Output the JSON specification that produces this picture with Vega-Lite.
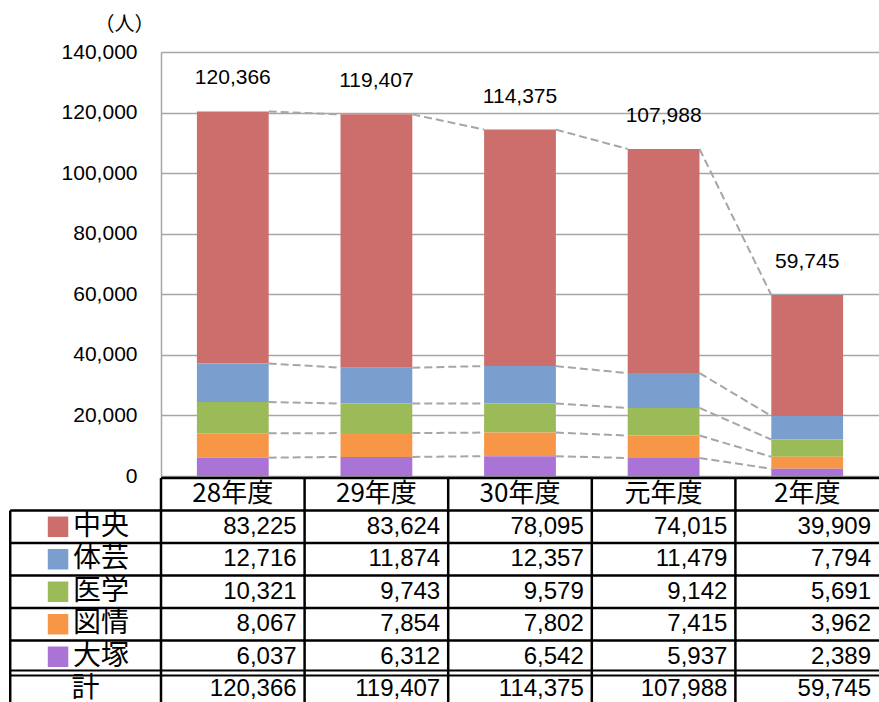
{
  "$schema": "https://vega.github.io/schema/vega-lite/v6.json",
  "width": 718,
  "height": 650,
  "autosize": "none",
  "padding": {"left": 161, "top": 52, "right": 0, "bottom": 0},
  "config": {"view": {"stroke": null}, "font": "Liberation Sans"},
  "datasets": {
    "main": [
      {"year": "28年度", "fy": 2016, "series": "中央", "so": 5, "count": 83225},
      {"year": "28年度", "fy": 2016, "series": "体芸", "so": 4, "count": 12716},
      {"year": "28年度", "fy": 2016, "series": "医学", "so": 3, "count": 10321},
      {"year": "28年度", "fy": 2016, "series": "図情", "so": 2, "count": 8067},
      {"year": "28年度", "fy": 2016, "series": "大塚", "so": 1, "count": 6037},
      {"year": "29年度", "fy": 2017, "series": "中央", "so": 5, "count": 83624},
      {"year": "29年度", "fy": 2017, "series": "体芸", "so": 4, "count": 11874},
      {"year": "29年度", "fy": 2017, "series": "医学", "so": 3, "count": 9743},
      {"year": "29年度", "fy": 2017, "series": "図情", "so": 2, "count": 7854},
      {"year": "29年度", "fy": 2017, "series": "大塚", "so": 1, "count": 6312},
      {"year": "30年度", "fy": 2018, "series": "中央", "so": 5, "count": 78095},
      {"year": "30年度", "fy": 2018, "series": "体芸", "so": 4, "count": 12357},
      {"year": "30年度", "fy": 2018, "series": "医学", "so": 3, "count": 9579},
      {"year": "30年度", "fy": 2018, "series": "図情", "so": 2, "count": 7802},
      {"year": "30年度", "fy": 2018, "series": "大塚", "so": 1, "count": 6542},
      {"year": "元年度", "fy": 2019, "series": "中央", "so": 5, "count": 74015},
      {"year": "元年度", "fy": 2019, "series": "体芸", "so": 4, "count": 11479},
      {"year": "元年度", "fy": 2019, "series": "医学", "so": 3, "count": 9142},
      {"year": "元年度", "fy": 2019, "series": "図情", "so": 2, "count": 7415},
      {"year": "元年度", "fy": 2019, "series": "大塚", "so": 1, "count": 5937},
      {"year": "2年度", "fy": 2020, "series": "中央", "so": 5, "count": 39909},
      {"year": "2年度", "fy": 2020, "series": "体芸", "so": 4, "count": 7794},
      {"year": "2年度", "fy": 2020, "series": "医学", "so": 3, "count": 5691},
      {"year": "2年度", "fy": 2020, "series": "図情", "so": 2, "count": 3962},
      {"year": "2年度", "fy": 2020, "series": "大塚", "so": 1, "count": 2389}
    ],
    "years": [
      {"year": "28年度"}, {"year": "29年度"}, {"year": "30年度"}, {"year": "元年度"}, {"year": "2年度"}
    ],
    "series": [
      {"series": "中央"}, {"series": "体芸"}, {"series": "医学"}, {"series": "図情"}, {"series": "大塚"}
    ]
  },
  "layer": [
    {
      "data": {"name": "main"},
      "mark": {"type": "bar"},
      "encoding": {
        "x": {"field": "year", "type": "nominal", "axis": null,
              "scale": {"type": "band", "domain": ["28年度", "29年度", "30年度", "元年度", "2年度"], "paddingInner": 0.5, "paddingOuter": 0.25}},
        "y": {"field": "count", "type": "quantitative", "stack": "zero",
              "scale": {"domain": [0, 140000], "range": [424, 0], "nice": false},
              "axis": {"title": "（人）", "titleAngle": 0, "titleX": -37, "titleY": -28, "titleAlign": "center", "titleBaseline": "middle",
                       "titleFont": "Noto Sans CJK JP", "titleFontSize": 20, "titleFontWeight": "normal", "titleColor": "black",
                       "values": [0, 20000, 40000, 60000, 80000, 100000, 120000, 140000], "format": ",.0f",
                       "labelFont": "Liberation Sans", "labelFontSize": 21, "labelColor": "black", "labelPadding": 24,
                       "ticks": false, "grid": true, "domainColor": "#A6A6A6", "domainWidth": 1.5, "gridColor": "#A6A6A6", "gridWidth": 1.5}},
        "color": {"field": "series", "type": "nominal", "legend": null,
                  "scale": {"domain": ["中央", "体芸", "医学", "図情", "大塚"], "range": ["#CC6F6C", "#7A9FCF", "#9BBB59", "#F79646", "#A974D6"]}},
        "order": {"field": "so", "type": "quantitative"}
      }
    },
    {
      "data": {"name": "main"},
      "transform": [
        {"stack": "count", "groupby": ["year"], "sort": [{"field": "so", "order": "ascending"}], "as": ["c0", "c1"]},
        {"window": [{"op": "lead", "field": "c1", "as": "n1"}, {"op": "lead", "field": "year", "as": "nyear"}], "groupby": ["series"], "sort": [{"field": "fy", "order": "ascending"}]},
        {"filter": "datum.nyear != null"}
      ],
      "mark": {"type": "rule", "color": "#A6A6A6", "strokeWidth": 2, "strokeDash": [8, 4]},
      "encoding": {
        "x": {"field": "year", "type": "nominal", "bandPosition": 1, "axis": null,
              "scale": {"type": "band", "domain": ["28年度", "29年度", "30年度", "元年度", "2年度"], "paddingInner": 0.5, "paddingOuter": 0.25}},
        "x2": {"field": "nyear", "bandPosition": 0},
        "y": {"field": "c1", "type": "quantitative", "axis": null,
              "scale": {"domain": [0, 140000], "range": [424, 0], "nice": false}},
        "y2": {"field": "n1"}
      }
    },
    {
      "data": {"name": "main"},
      "mark": {"type": "text", "dy": -33, "fontSize": 21, "font": "Liberation Sans", "color": "black"},
      "encoding": {
        "x": {"field": "year", "type": "nominal", "axis": null,
              "scale": {"type": "band", "domain": ["28年度", "29年度", "30年度", "元年度", "2年度"], "paddingInner": 0.5, "paddingOuter": 0.25}},
        "y": {"aggregate": "sum", "field": "count", "type": "quantitative", "axis": null,
              "scale": {"domain": [0, 140000], "range": [424, 0], "nice": false}},
        "text": {"aggregate": "sum", "field": "count", "type": "quantitative", "format": ","}
      }
    },
    {
      "data": {"values": [{"r": "hdr"}]},
      "mark": {"type": "rule", "color": "black", "strokeWidth": 2.5},
      "encoding": {
        "y": {"field": "r", "type": "nominal", "bandPosition": 0, "axis": null,
              "scale": {"type": "band", "domain": ["hdr", "中央", "体芸", "医学", "図情", "大塚", "計", "end"], "range": [426, 686], "paddingInner": 0, "paddingOuter": 0}},
        "x": {"datum": "28年度", "type": "nominal", "bandPosition": 0, "axis": null,
              "scale": {"type": "band", "domain": ["label", "28年度", "29年度", "30年度", "元年度", "2年度", "xend"], "range": [-143.6, 861.6], "paddingInner": 0, "paddingOuter": 0}},
        "x2": {"datum": "xend"}
      }
    },
    {
      "data": {"name": "series"},
      "mark": {"type": "rule", "color": "black", "strokeWidth": 2.5},
      "encoding": {
        "y": {"field": "series", "type": "nominal", "bandPosition": 0, "axis": null,
              "scale": {"type": "band", "domain": ["hdr", "中央", "体芸", "医学", "図情", "大塚", "計", "end"], "range": [426, 686], "paddingInner": 0, "paddingOuter": 0}},
        "x": {"datum": "label", "type": "nominal", "bandPosition": -0.05, "axis": null,
              "scale": {"type": "band", "domain": ["label", "28年度", "29年度", "30年度", "元年度", "2年度", "xend"], "range": [-143.6, 861.6], "paddingInner": 0, "paddingOuter": 0}},
        "x2": {"datum": "xend"}
      }
    },
    {
      "data": {"values": [{"r": "計"}]},
      "mark": {"type": "rule", "color": "black", "strokeWidth": 2, "yOffset": -2.5},
      "encoding": {
        "y": {"field": "r", "type": "nominal", "bandPosition": 0, "axis": null,
              "scale": {"type": "band", "domain": ["hdr", "中央", "体芸", "医学", "図情", "大塚", "計", "end"], "range": [426, 686], "paddingInner": 0, "paddingOuter": 0}},
        "x": {"datum": "label", "type": "nominal", "bandPosition": -0.05, "axis": null,
              "scale": {"type": "band", "domain": ["label", "28年度", "29年度", "30年度", "元年度", "2年度", "xend"], "range": [-143.6, 861.6], "paddingInner": 0, "paddingOuter": 0}},
        "x2": {"datum": "xend"}
      }
    },
    {
      "data": {"values": [{"r": "計"}]},
      "mark": {"type": "rule", "color": "black", "strokeWidth": 2, "yOffset": 2.5},
      "encoding": {
        "y": {"field": "r", "type": "nominal", "bandPosition": 0, "axis": null,
              "scale": {"type": "band", "domain": ["hdr", "中央", "体芸", "医学", "図情", "大塚", "計", "end"], "range": [426, 686], "paddingInner": 0, "paddingOuter": 0}},
        "x": {"datum": "label", "type": "nominal", "bandPosition": -0.05, "axis": null,
              "scale": {"type": "band", "domain": ["label", "28年度", "29年度", "30年度", "元年度", "2年度", "xend"], "range": [-143.6, 861.6], "paddingInner": 0, "paddingOuter": 0}},
        "x2": {"datum": "xend"}
      }
    },
    {
      "data": {"name": "years"},
      "mark": {"type": "rule", "color": "black", "strokeWidth": 2.5},
      "encoding": {
        "x": {"field": "year", "type": "nominal", "bandPosition": 0, "axis": null,
              "scale": {"type": "band", "domain": ["label", "28年度", "29年度", "30年度", "元年度", "2年度", "xend"], "range": [-143.6, 861.6], "paddingInner": 0, "paddingOuter": 0}},
        "y": {"datum": "hdr", "type": "nominal", "bandPosition": 0, "axis": null,
              "scale": {"type": "band", "domain": ["hdr", "中央", "体芸", "医学", "図情", "大塚", "計", "end"], "range": [426, 686], "paddingInner": 0, "paddingOuter": 0}},
        "y2": {"datum": "end"}
      }
    },
    {
      "data": {"values": [{"r": "中央"}]},
      "mark": {"type": "rule", "color": "black", "strokeWidth": 2.5},
      "encoding": {
        "x": {"datum": "label", "type": "nominal", "bandPosition": -0.05, "axis": null,
              "scale": {"type": "band", "domain": ["label", "28年度", "29年度", "30年度", "元年度", "2年度", "xend"], "range": [-143.6, 861.6], "paddingInner": 0, "paddingOuter": 0}},
        "y": {"field": "r", "type": "nominal", "bandPosition": 0, "axis": null,
              "scale": {"type": "band", "domain": ["hdr", "中央", "体芸", "医学", "図情", "大塚", "計", "end"], "range": [426, 686], "paddingInner": 0, "paddingOuter": 0}},
        "y2": {"datum": "end"}
      }
    },
    {
      "data": {"name": "years"},
      "mark": {"type": "text", "font": "Noto Sans CJK JP", "fontSize": 26, "color": "black", "baseline": "middle", "align": "center"},
      "encoding": {
        "x": {"field": "year", "type": "nominal", "bandPosition": 0.5, "axis": null,
              "scale": {"type": "band", "domain": ["label", "28年度", "29年度", "30年度", "元年度", "2年度", "xend"], "range": [-143.6, 861.6], "paddingInner": 0, "paddingOuter": 0}},
        "y": {"datum": "hdr", "type": "nominal", "axis": null,
              "scale": {"type": "band", "domain": ["hdr", "中央", "体芸", "医学", "図情", "大塚", "計", "end"], "range": [426, 686], "paddingInner": 0, "paddingOuter": 0}},
        "text": {"field": "year", "type": "nominal"}
      }
    },
    {
      "data": {"name": "main"},
      "mark": {"type": "text", "font": "Liberation Sans", "fontSize": 24, "color": "black", "baseline": "middle", "align": "right", "dx": -8},
      "encoding": {
        "x": {"field": "year", "type": "nominal", "bandPosition": 1, "axis": null,
              "scale": {"type": "band", "domain": ["label", "28年度", "29年度", "30年度", "元年度", "2年度", "xend"], "range": [-143.6, 861.6], "paddingInner": 0, "paddingOuter": 0}},
        "y": {"field": "series", "type": "nominal", "axis": null,
              "scale": {"type": "band", "domain": ["hdr", "中央", "体芸", "医学", "図情", "大塚", "計", "end"], "range": [426, 686], "paddingInner": 0, "paddingOuter": 0}},
        "text": {"field": "count", "type": "quantitative", "format": ","}
      }
    },
    {
      "data": {"name": "main"},
      "transform": [{"aggregate": [{"op": "sum", "field": "count", "as": "total"}], "groupby": ["year"]}],
      "mark": {"type": "text", "font": "Liberation Sans", "fontSize": 24, "color": "black", "baseline": "middle", "align": "right", "dx": -8},
      "encoding": {
        "x": {"field": "year", "type": "nominal", "bandPosition": 1, "axis": null,
              "scale": {"type": "band", "domain": ["label", "28年度", "29年度", "30年度", "元年度", "2年度", "xend"], "range": [-143.6, 861.6], "paddingInner": 0, "paddingOuter": 0}},
        "y": {"datum": "計", "type": "nominal", "axis": null,
              "scale": {"type": "band", "domain": ["hdr", "中央", "体芸", "医学", "図情", "大塚", "計", "end"], "range": [426, 686], "paddingInner": 0, "paddingOuter": 0}},
        "text": {"field": "total", "type": "quantitative", "format": ","}
      }
    },
    {
      "data": {"name": "series"},
      "mark": {"type": "point", "shape": "square", "size": 420, "filled": true, "opacity": 1, "strokeWidth": 0},
      "encoding": {
        "x": {"datum": "label", "type": "nominal", "bandPosition": 0.283, "axis": null,
              "scale": {"type": "band", "domain": ["label", "28年度", "29年度", "30年度", "元年度", "2年度", "xend"], "range": [-143.6, 861.6], "paddingInner": 0, "paddingOuter": 0}},
        "y": {"field": "series", "type": "nominal", "axis": null,
              "scale": {"type": "band", "domain": ["hdr", "中央", "体芸", "医学", "図情", "大塚", "計", "end"], "range": [426, 686], "paddingInner": 0, "paddingOuter": 0}},
        "color": {"field": "series", "type": "nominal", "legend": null,
                  "scale": {"domain": ["中央", "体芸", "医学", "図情", "大塚"], "range": ["#CC6F6C", "#7A9FCF", "#9BBB59", "#F79646", "#A974D6"]}}
      }
    },
    {
      "data": {"name": "series"},
      "mark": {"type": "text", "font": "Noto Sans CJK JP", "fontSize": 28, "color": "black", "baseline": "middle", "align": "left"},
      "encoding": {
        "x": {"datum": "label", "type": "nominal", "bandPosition": 0.387, "axis": null,
              "scale": {"type": "band", "domain": ["label", "28年度", "29年度", "30年度", "元年度", "2年度", "xend"], "range": [-143.6, 861.6], "paddingInner": 0, "paddingOuter": 0}},
        "y": {"field": "series", "type": "nominal", "axis": null,
              "scale": {"type": "band", "domain": ["hdr", "中央", "体芸", "医学", "図情", "大塚", "計", "end"], "range": [426, 686], "paddingInner": 0, "paddingOuter": 0}},
        "text": {"field": "series", "type": "nominal"}
      }
    },
    {
      "data": {"values": [{"t": "計"}]},
      "mark": {"type": "text", "font": "Noto Sans CJK JP", "fontSize": 28, "color": "black", "baseline": "middle", "align": "center"},
      "encoding": {
        "x": {"datum": "label", "type": "nominal", "bandPosition": 0.475, "axis": null,
              "scale": {"type": "band", "domain": ["label", "28年度", "29年度", "30年度", "元年度", "2年度", "xend"], "range": [-143.6, 861.6], "paddingInner": 0, "paddingOuter": 0}},
        "y": {"field": "t", "type": "nominal", "axis": null,
              "scale": {"type": "band", "domain": ["hdr", "中央", "体芸", "医学", "図情", "大塚", "計", "end"], "range": [426, 686], "paddingInner": 0, "paddingOuter": 0}},
        "text": {"field": "t", "type": "nominal"}
      }
    }
  ],
  "resolve": {"scale": {"x": "independent", "y": "independent"}, "axis": {"x": "independent", "y": "independent"}}
}
